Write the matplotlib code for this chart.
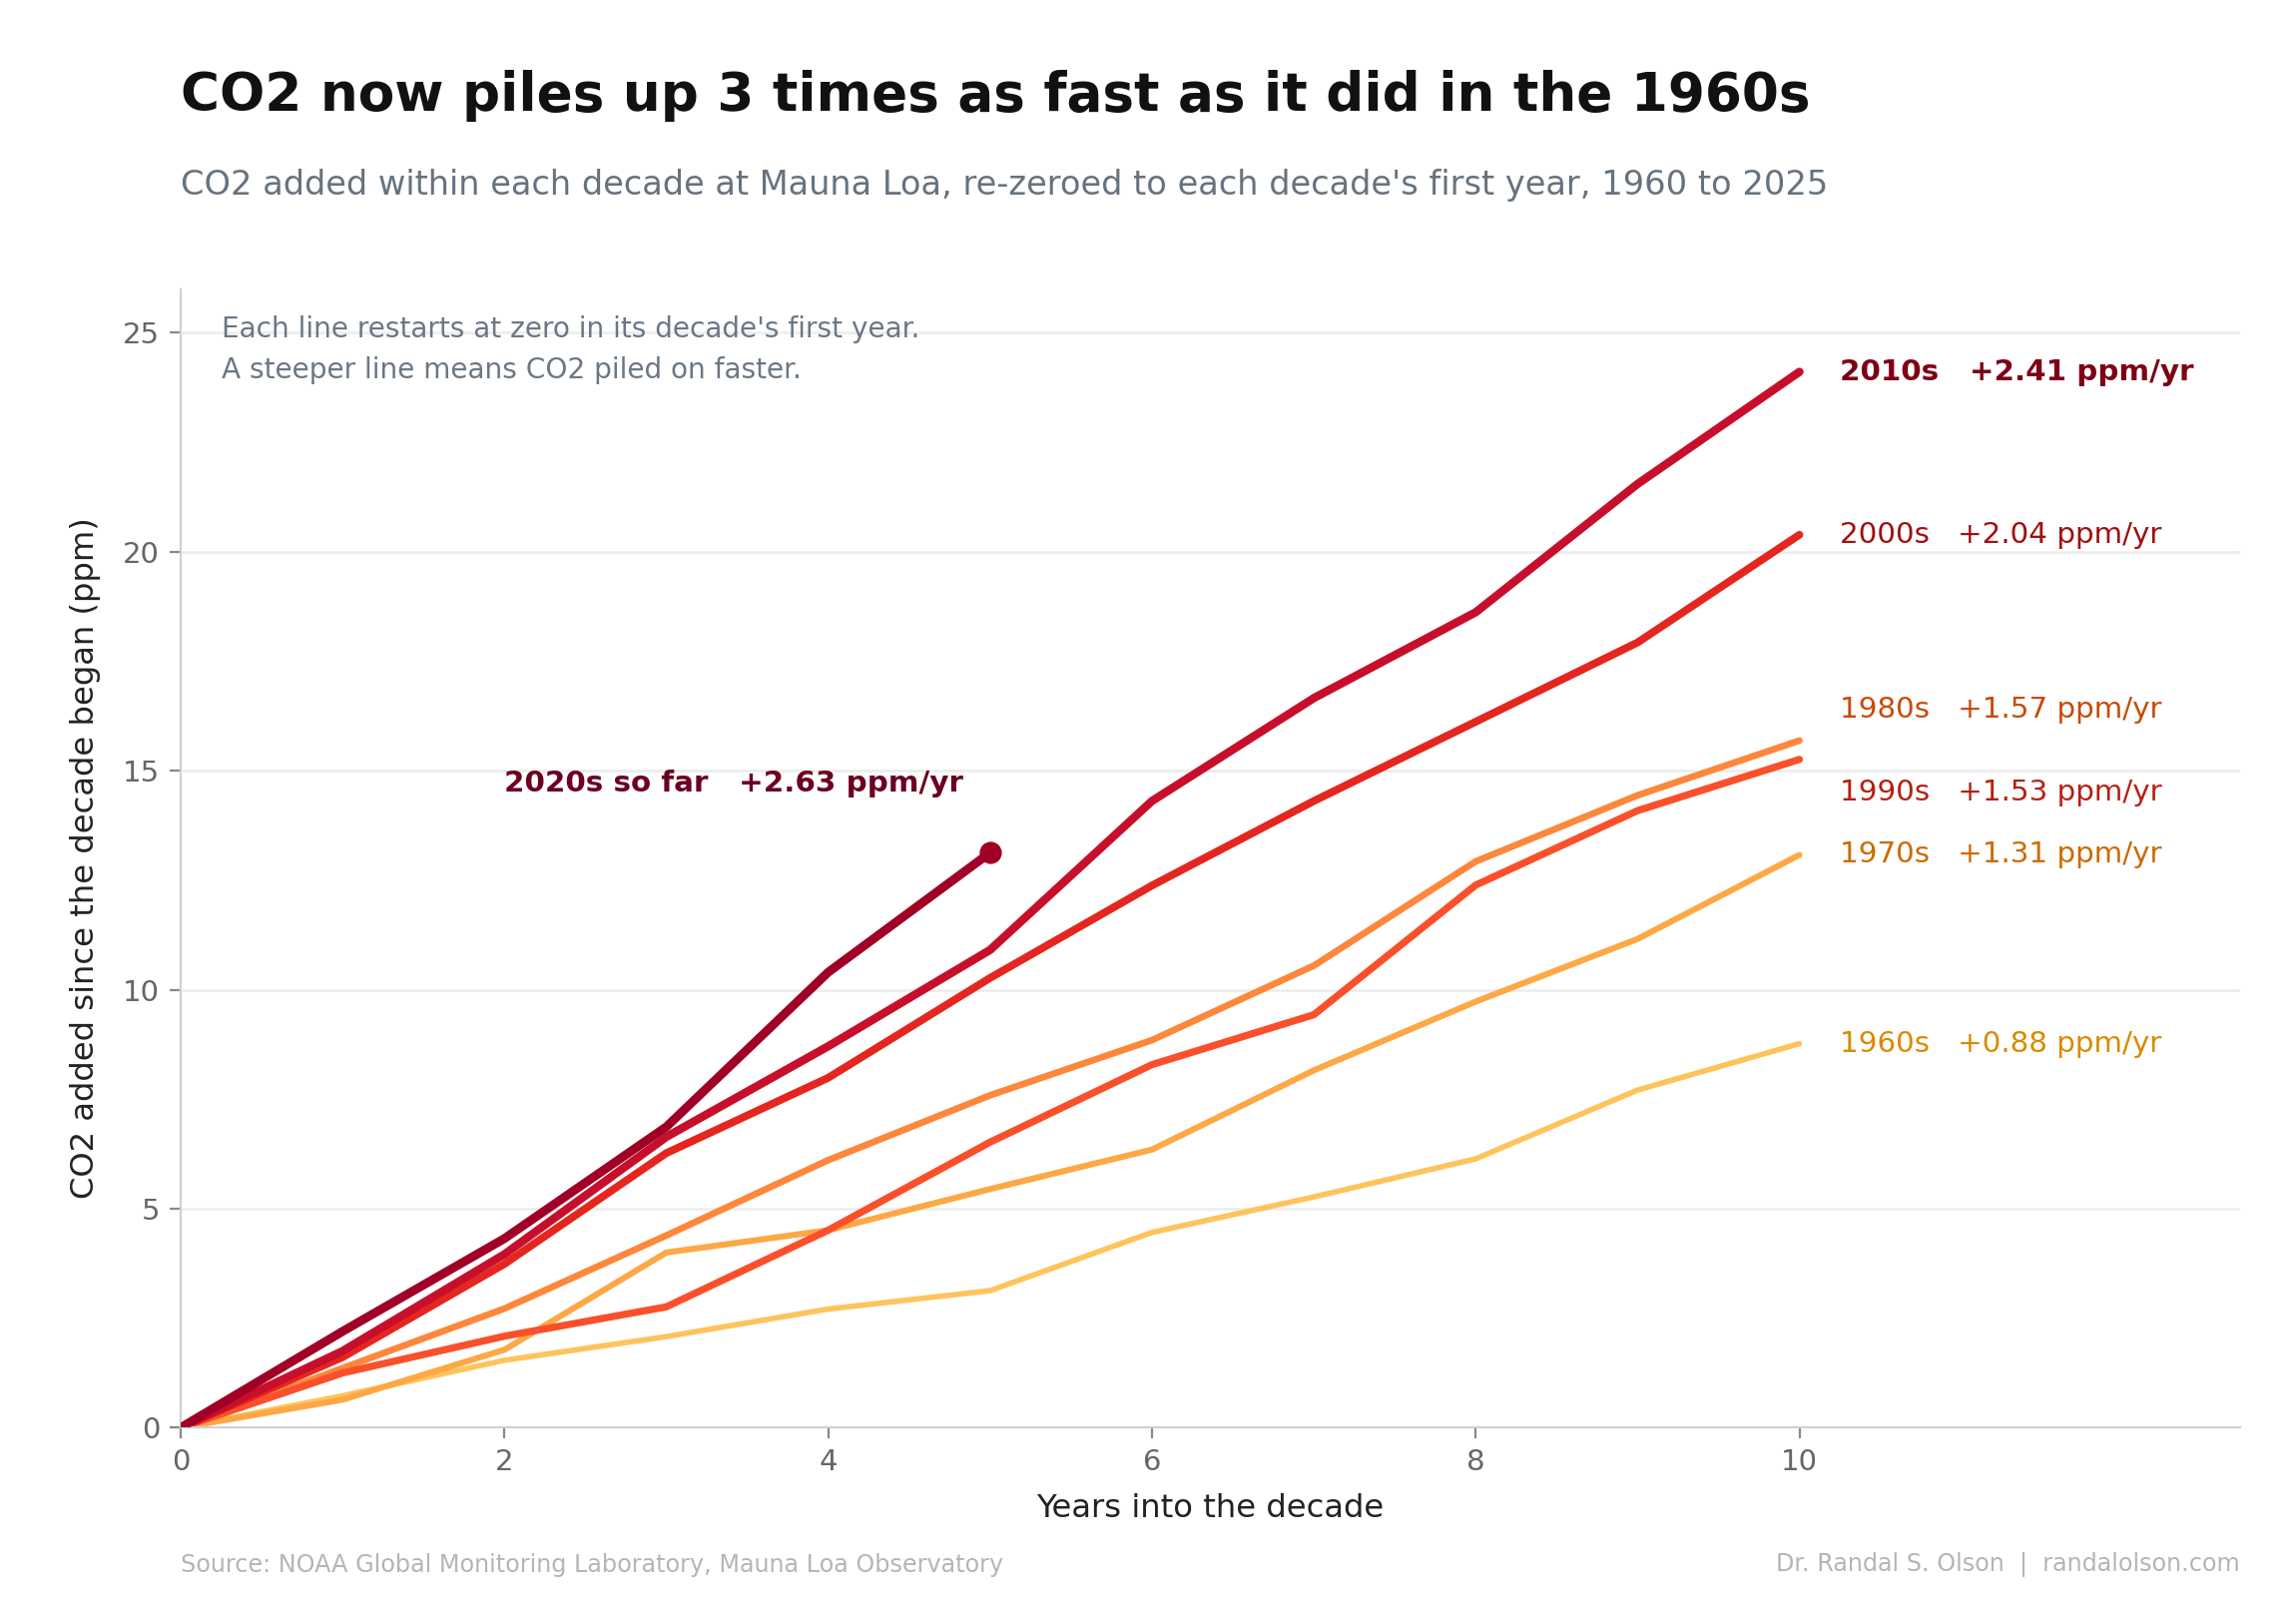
import matplotlib
matplotlib.use("Agg")
import matplotlib.pyplot as plt

# CO2 added since each decade's first year (ppm), Mauna Loa annual means
years = list(range(11))
decades = ["1960s", "1970s", "1980s", "1990s", "2000s", "2010s"]
added = {
    "1960s": [0, 0.73, 1.54, 2.08, 2.71, 3.13, 4.46, 5.27, 6.14, 7.71, 8.77],
    "1970s": [0, 0.64, 1.78, 4.00, 4.51, 5.45, 6.35, 8.16, 9.73, 11.16, 13.08],
    "1980s": [0, 1.36, 2.72, 4.39, 6.11, 7.59, 8.85, 10.55, 12.93, 14.44, 15.69],
    "1990s": [0, 1.25, 2.09, 2.76, 4.51, 6.52, 8.29, 9.43, 12.39, 14.09, 15.26],
    "2000s": [0, 1.61, 3.74, 6.27, 7.99, 10.27, 12.38, 14.31, 16.12, 17.93, 20.39],
    "2010s": [0, 1.75, 3.96, 6.64, 8.71, 10.91, 14.31, 16.66, 18.62, 21.55, 24.11],
}
years_2020s = [0, 1, 2, 3, 4, 5]
added_2020s = [0, 2.20, 4.32, 6.87, 10.40, 13.13]
rates = {"1960s": 0.88, "1970s": 1.31, "1980s": 1.57, "1990s": 1.53,
         "2000s": 2.04, "2010s": 2.41}
rate_2020s = 2.63

line_colors = {"1960s": "#fec45c", "1970s": "#fda845", "1980s": "#fd873a",
               "1990s": "#f9502b", "2000s": "#e4261f", "2010s": "#c70f2b"}
label_colors = {"1960s": "#d98a00", "1970s": "#cc6a00", "1980s": "#c84a08",
                "1990s": "#b61e12", "2000s": "#a00f10", "2010s": "#7d0014"}
widths = {"1960s": 2.0, "1970s": 2.2, "1980s": 2.4, "1990s": 2.6,
          "2000s": 2.8, "2010s": 3.0}
# nudge end labels apart where lines finish close together
nudge = {"1980s": 0.7, "1990s": -0.75}

fig = plt.figure(figsize=(11.5, 8), dpi=200)
ax = fig.add_axes([0.0787, 0.106, 0.8968, 0.713])

for d in decades:
    ax.plot(years, added[d], color=line_colors[d], lw=widths[d],
            solid_capstyle="round", zorder=2)
    ax.text(10.25, added[d][-1] + nudge.get(d, 0), f"{d}   +{rates[d]:.2f} ppm/yr",
            color=label_colors[d], fontsize=10.6,
            fontweight="bold" if d == "2010s" else "normal", va="center", ha="left")

ax.plot(years_2020s, added_2020s, color="#a10026", lw=3.2,
        solid_capstyle="round", zorder=3)
ax.plot(years_2020s[-1], added_2020s[-1], "o", color="#a10026", ms=7, zorder=4)
ax.text(2.0, 14.7, f"2020s so far   +{rate_2020s:.2f} ppm/yr", color="#6b0020",
        fontsize=10.6, fontweight="bold", va="center", ha="left")

ax.text(0.02, 0.977, "Each line restarts at zero in its decade's first year.\n"
        "A steeper line means CO2 piled on faster.",
        transform=ax.transAxes, color="#6b7785", fontsize=10.1, va="top",
        ha="left", linespacing=1.6)

ax.set_xlim(0, 12.72)
ax.set_ylim(0, 26)
ax.set_xticks([0, 2, 4, 6, 8, 10])
ax.set_yticks([0, 5, 10, 15, 20, 25])
ax.grid(axis="y", color="#eeeeee", lw=1)
ax.set_axisbelow(True)
for s in ["top", "right"]:
    ax.spines[s].set_visible(False)
for s in ["left", "bottom"]:
    ax.spines[s].set_color("#d0d0d0")
ax.tick_params(colors="#888888", labelcolor="#666666", labelsize=10.5, length=4)
ax.set_xlabel("Years into the decade", fontsize=11.6, color="#222222", labelpad=6)
ax.set_ylabel("CO2 added since the decade began (ppm)", fontsize=11.6,
              color="#222222", labelpad=8)

fig.text(0.0787, 0.94, "CO2 now piles up 3 times as fast as it did in the 1960s",
         fontsize=19.2, fontweight="bold", color="#111111", va="center", ha="left")
fig.text(0.0787, 0.884, "CO2 added within each decade at Mauna Loa, re-zeroed to "
         "each decade's first year, 1960 to 2025",
         fontsize=12.1, color="#66737f", va="center", ha="left")
fig.text(0.0787, 0.02, "Source: NOAA Global Monitoring Laboratory, Mauna Loa Observatory",
         fontsize=8.6, color="#b5b5b5", va="center", ha="left")
fig.text(0.9755, 0.02, "Dr. Randal S. Olson  |  randalolson.com",
         fontsize=8.6, color="#b5b5b5", va="center", ha="right")

fig.savefig("out.png", dpi=200, facecolor="white")
